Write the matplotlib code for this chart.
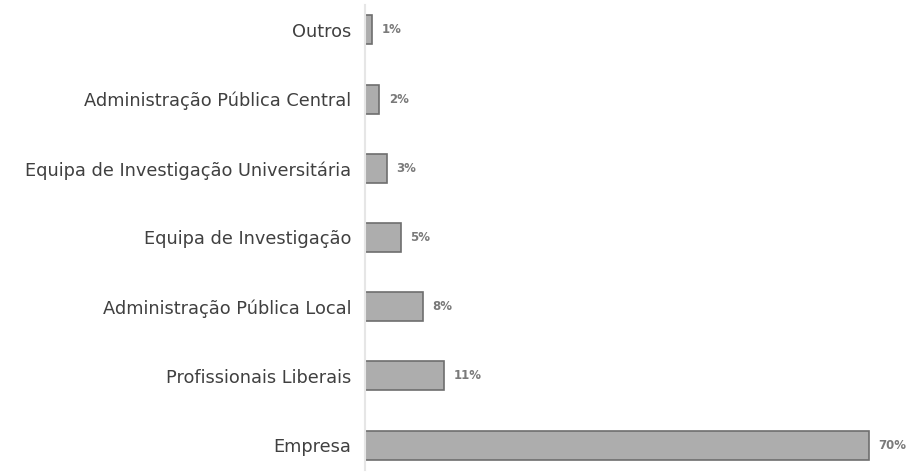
import matplotlib.pyplot as plt

categories = ['Empresa', 'Profissionais Liberais', 'Administração Pública Local',
              'Equipa de Investigação', 'Equipa de Investigação Universitária',
              'Administração Pública Central', 'Outros']
values = [70, 11, 8, 5, 3, 2, 1]
labels = ['70%', '11%', '8%', '5%', '3%', '2%', '1%']

fig = plt.figure(figsize=(9.15, 4.76), dpi=100)
ax = fig.add_axes([365 / 915, 6 / 476, 540 / 915, 465 / 476])

y = range(len(categories))
ax.barh(y, values, height=0.42, color='#adadad', edgecolor='#6e6e6e', linewidth=1.2)

for yi, v, lab in zip(y, values, labels):
    ax.text(v + 1.3, yi, lab, va='center', ha='left', fontsize=8.5,
            color='#7a7a7a', fontweight='bold')

ax.set_xlim(0, 75)
ax.set_ylim(-0.36, 6.36)
ax.set_yticks(list(y))
ax.set_yticklabels(categories, fontsize=12.8, color='#404040')
ax.tick_params(axis='y', length=0, pad=10)
ax.set_xticks([])
for side in ['top', 'right', 'bottom']:
    ax.spines[side].set_visible(False)
ax.spines['left'].set_color('#e6e6e6')
ax.spines['left'].set_linewidth(1.5)

fig.savefig('out.png', dpi=100)
